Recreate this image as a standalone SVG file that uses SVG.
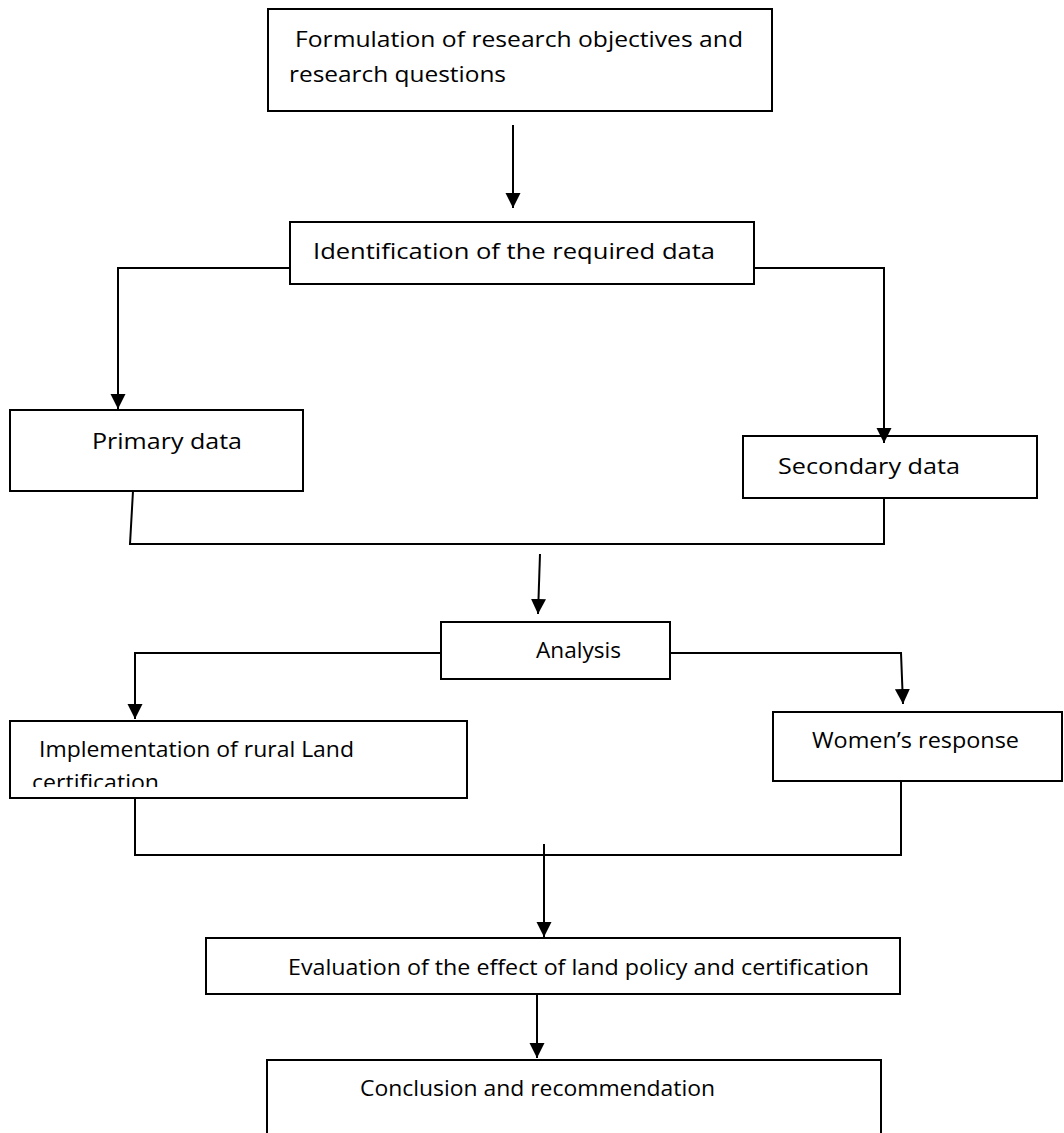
<svg xmlns="http://www.w3.org/2000/svg" width="1064" height="1133" viewBox="0 0 1064 1133">
<style>
.box{fill:#fff;stroke:#000;stroke-width:2}
.lbl{font-family:"Open Sans","Liberation Sans",sans-serif;font-size:21.5px;fill:#000}
.con{fill:none;stroke:#000;stroke-width:2}
.arr{marker-end:url(#ah)}
</style>
<defs>
<marker id="ah" markerUnits="userSpaceOnUse" markerWidth="16" markerHeight="16" refX="15" refY="7.5" orient="auto">
<path d="M0,0 L15,7.5 L0,15 z" fill="#000"/>
</marker>
<clipPath id="clipImpl"><rect x="10" y="721" width="457" height="66"/></clipPath>
</defs>
<rect width="1064" height="1133" fill="#fff"/>
<g id="nodes">
<g id="n-formulation">
<rect class="box" x="268" y="9" width="504" height="102"/>
<text class="lbl" x="295" y="47" textLength="448" lengthAdjust="spacingAndGlyphs">Formulation of research objectives and</text>
<text class="lbl" x="289" y="82" textLength="217" lengthAdjust="spacingAndGlyphs">research questions</text>
</g>
<g id="n-identification">
<rect class="box" x="290" y="222" width="464" height="62"/>
<text class="lbl" x="313" y="259" textLength="402" lengthAdjust="spacingAndGlyphs">Identification of the required data</text>
</g>
<g id="n-primary">
<rect class="box" x="10" y="410" width="293" height="81"/>
<text class="lbl" x="92" y="449" textLength="150" lengthAdjust="spacingAndGlyphs">Primary data</text>
</g>
<g id="n-secondary">
<rect class="box" x="743" y="436" width="294" height="62"/>
<text class="lbl" x="778" y="474" textLength="182" lengthAdjust="spacingAndGlyphs">Secondary data</text>
</g>
<g id="n-analysis">
<rect class="box" x="441" y="622" width="229" height="57"/>
<text class="lbl" x="536" y="658" textLength="85" lengthAdjust="spacingAndGlyphs">Analysis</text>
</g>
<g id="n-implementation">
<rect class="box" x="10" y="721" width="457" height="77"/>
<g clip-path="url(#clipImpl)">
<text class="lbl" x="39" y="757" textLength="315" lengthAdjust="spacingAndGlyphs">Implementation of rural Land</text>
<text class="lbl" x="32" y="790" textLength="127" lengthAdjust="spacingAndGlyphs">certification</text>
</g>
</g>
<g id="n-women">
<rect class="box" x="773" y="712" width="289" height="69"/>
<text class="lbl" x="812" y="748" textLength="207" lengthAdjust="spacingAndGlyphs">Women’s response</text>
</g>
<g id="n-evaluation">
<rect class="box" x="206" y="938" width="694" height="56"/>
<text class="lbl" x="288" y="975" textLength="581" lengthAdjust="spacingAndGlyphs">Evaluation of the effect of land policy and certification</text>
</g>
<g id="n-conclusion">
<rect class="box" x="267" y="1060" width="614" height="90"/>
<text class="lbl" x="360" y="1096" textLength="355" lengthAdjust="spacingAndGlyphs">Conclusion and recommendation</text>
</g>
</g>
<g id="connectors">
<path class="con arr" d="M513,125 V208"/>
<path class="con arr" d="M290,268 H118 V409"/>
<path class="con arr" d="M754,268 H884 V443"/>
<path class="con" d="M133,491 L130,544 H884 V498"/>
<path class="con arr" d="M540,554 L538,614"/>
<path class="con arr" d="M441,653 H135 V719"/>
<path class="con arr" d="M670,653 H901 L903,704"/>
<path class="con" d="M135,798 V855 H901 V781"/>
<path class="con arr" d="M544,844 V937"/>
<path class="con arr" d="M537,994 V1058"/>
</g>
</svg>
